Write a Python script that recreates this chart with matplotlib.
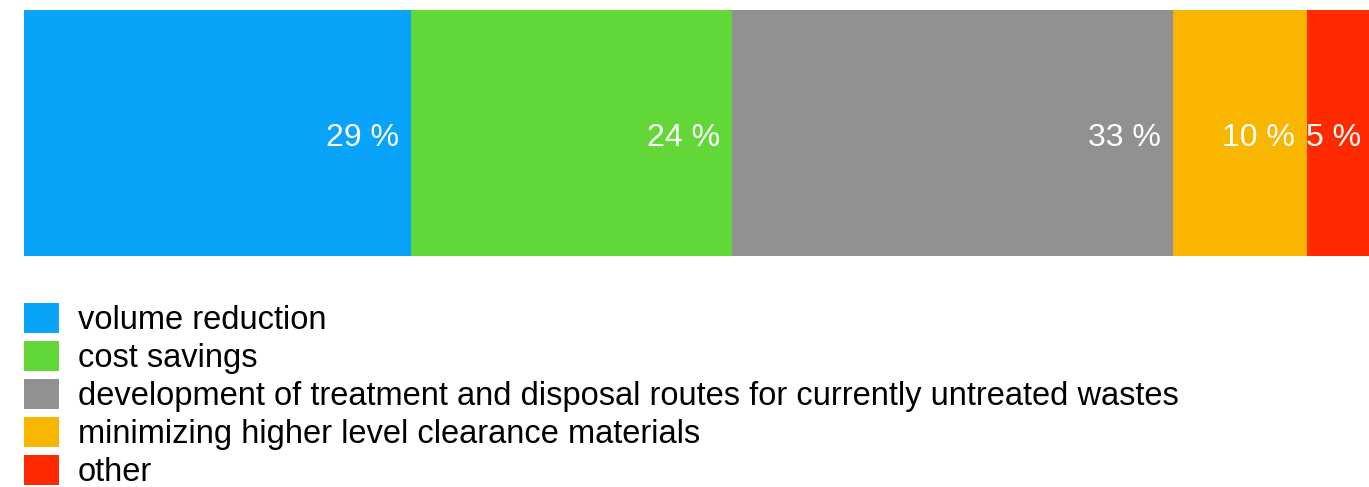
import matplotlib.pyplot as plt
from matplotlib.patches import Patch

categories = [
    "volume reduction",
    "cost savings",
    "development of treatment and disposal routes for currently untreated wastes",
    "minimizing higher level clearance materials",
    "other",
]
shares = [29, 24, 33, 10, 5]
labels = ["29 %", "24 %", "33 %", "10 %", "5 %"]
colors = ["#0aa3fa", "#62d838", "#919191", "#f8b600", "#ff2a00"]

plt.rcParams["font.family"] = ["Liberation Sans", "DejaVu Sans"]

fig = plt.figure(figsize=(13.69, 4.87), dpi=100)
# bar area: left edge at 24px, runs past the right edge like the original
ax = fig.add_axes([24 / 1369, 1 - 256 / 487, 1 - 24 / 1369, 246 / 487])

left = 0
for val, lab, col in zip(shares, labels, colors):
    ax.barh(0, val, left=left, height=1, color=col, edgecolor="none")
    ax.text(left + val - 0.9, -0.02, lab, ha="right", va="center",
            color="white", fontsize=23)
    left += val

ax.set_xlim(0, (1369 - 24) / 13.36)
ax.set_ylim(-0.5, 0.5)
ax.axis("off")

handles = [Patch(facecolor=c, edgecolor="none") for c in colors]
fig.legend(handles, categories, loc="upper left",
           bbox_to_anchor=(24 / 1369, 1 - 303 / 487),
           frameon=False, fontsize=23.5, borderpad=0, borderaxespad=0,
           handlelength=1.07, handleheight=1.06, handletextpad=0.58,
           labelspacing=0.14)

fig.savefig("out.png", dpi=100)
